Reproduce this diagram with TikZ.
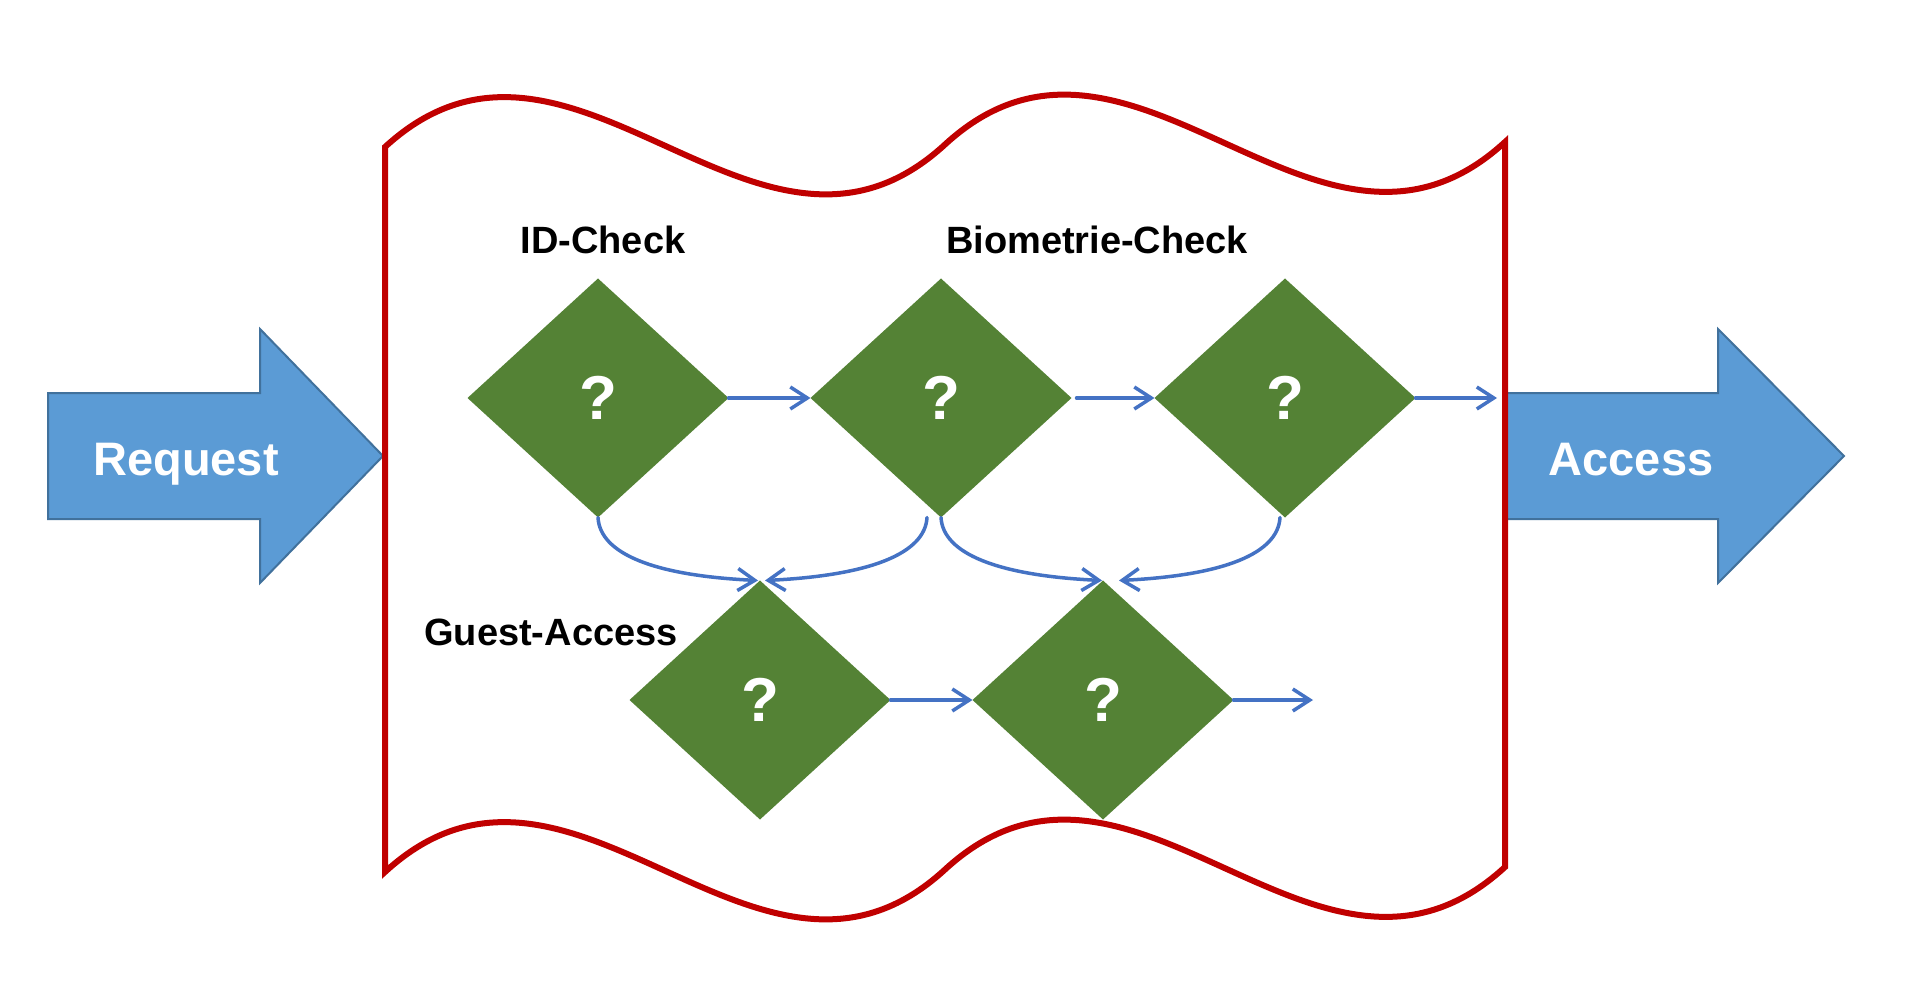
\documentclass[tikz,border=0pt]{standalone}
\usepackage{fontspec}
\setmainfont{Liberation Sans}
\usetikzlibrary{shapes.geometric,arrows.meta}
\definecolor{dgreen}{HTML}{548235}
\definecolor{afill}{HTML}{5B9BD5}
\definecolor{aborder}{HTML}{41719C}
\definecolor{cblue}{HTML}{4472C4}
\definecolor{wred}{HTML}{C00000}
\tikzset{
  decision/.style={diamond, fill=dgreen, minimum width=261pt, minimum height=239pt,
    inner sep=0pt, outer sep=0pt, text=white, font=\fontsize{62}{62}\selectfont\bfseries},
  conn/.style={draw=cblue, line width=3.5pt, line cap=round,
    -{Straight Barb[length=17pt,width=22pt,line width=3.5pt]}},
  bigarrow/.style={fill=afill, draw=aborder, line width=2pt, line join=miter},
  arrowtext/.style={text=white, anchor=base, inner sep=0pt, font=\fontsize{47}{47}\selectfont\bfseries},
  label/.style={text=black, anchor=base, inner sep=0pt, font=\fontsize{38}{38}\selectfont\bfseries},
  wave/.style={draw=wred, line width=6pt, line join=miter}
}
\begin{document}
\begin{tikzpicture}[x=1pt,y=-1pt]
\useasboundingbox[fill=white] (0,0) rectangle (1914,1000);
% big block arrows
\draw[bigarrow] (48,393) -- (260,393) -- (260,329) -- (383,456) -- (260,583) -- (260,519) -- (48,519) -- cycle;
\node[arrowtext] (req) at (186,475) {Request};
\draw[bigarrow] (1506,393) -- (1718,393) -- (1718,329) -- (1844,456) -- (1718,583) -- (1718,519) -- (1506,519) -- cycle;
\node[arrowtext] (acc) at (1631,475) {Access};
% wave frame
\draw[wave] (385,147) .. controls (571.7,-24.8) and (758.3,316.3) .. (945,144.5)
  .. controls (1131.7,-27.3) and (1318.3,313.8) .. (1505,142)
  -- (1505,867)
  .. controls (1318.3,1038.8) and (1131.7,697.7) .. (945,869.5)
  .. controls (758.3,1041.3) and (571.7,700.2) .. (385,872) -- cycle;
% labels
\node[label] (lid) at (603,254) {ID-Check};
\node[label] (lbio) at (1097,254) {Biometrie-Check};
\node[label] (lguest) at (551,645) {Guest-Access};
% decisions
\node[decision] (D1) at (598,398) {?};
\node[decision] (D2) at (941,398) {?};
\node[decision] (D3) at (1285,398) {?};
\node[decision] (D4) at (760,700) {?};
\node[decision] (D5) at (1103,700) {?};
\coordinate (wallR) at (1497,398);
\coordinate (outG) at (1313,700);
% connectors
\draw[conn] (D1.east) -- (D2.west);
\draw[conn] ([xshift=5pt]D2.east) -- (D3.west);
\draw[conn] (D3.east) -- (wallR);
\draw[conn] (D4.east) -- (D5.west);
\draw[conn] (D5.east) -- (outG);
\draw[conn] (D1.south) .. controls +(2,36) and +(-105,-5) .. ([xshift=-2pt]D4.north);
\draw[conn] ([xshift=-14pt]D2.south) .. controls +(-2,36) and +(105,-5) .. ([xshift=5pt]D4.north);
\draw[conn] (D2.south) .. controls +(2,36) and +(-105,-5) .. ([xshift=-1pt]D5.north);
\draw[conn] ([xshift=-5pt]D3.south) .. controls +(-2,36) and +(105,-5) .. ([xshift=16pt]D5.north);
\end{tikzpicture}
\end{document}
